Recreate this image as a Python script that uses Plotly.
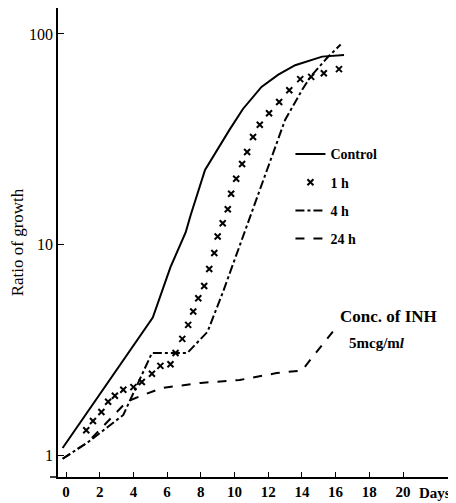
import plotly.graph_objects as go

# ---- data ----
control_days = [-0.2, 5.15, 6.2, 7.1, 7.4, 8.25, 9.7, 10.5, 11.6, 12.6, 13.6, 14.7, 15.2, 16.5]
control_vals = [1.08, 4.5, 7.8, 11.4, 13.8, 22.6, 35, 44, 56, 64, 71, 76, 78, 79.5]

h1_days = [1.2, 1.6, 2.1, 2.5, 2.9, 3.4, 4.0, 4.5, 5.1, 5.6, 6.2, 6.5, 6.9, 7.25, 7.55, 7.85,
           8.2, 8.5, 8.8, 9.0, 9.3, 9.6, 9.8, 10.1, 10.45, 10.75, 11.1, 11.5, 12.05, 12.65,
           13.25, 13.9, 14.55, 15.3, 16.2]
h1_vals = [1.31, 1.45, 1.6, 1.79, 1.91, 2.04, 2.1, 2.22, 2.43, 2.65, 2.7, 3.05, 3.56, 4.15, 4.8, 5.55,
           6.35, 7.65, 9.1, 10.9, 12.6, 14.7, 17.4, 20.5, 24.1, 27.5, 32.4, 37, 42, 47.5,
           54, 61, 62.5, 65, 68]

h4_days = [-0.2, 1.3, 3.4, 5.1, 7.2, 8.4, 9.3, 10.7, 12.1, 13.0, 14.0, 14.5, 15.5, 16.3]
h4_vals = [0.96, 1.15, 1.55, 3.05, 3.05, 3.85, 5.9, 12.1, 25, 39, 54, 62.5, 77, 89]

h24_days = [-0.2, 1.3, 3.6, 4.3, 5.7, 8.0, 10.3, 12.5, 14.0, 16.1]
h24_vals = [0.96, 1.15, 1.79, 1.89, 2.08, 2.2, 2.27, 2.45, 2.52, 4.1]

x_ticks = [0, 2, 4, 6, 8, 10, 12, 14, 16, 18, 20]
y_ticks = [1, 10, 100]
y_tick_text = ["1", "10", "100"]

SERIF = "Liberation Serif"

fig = go.Figure()
fig.add_trace(go.Scatter(x=control_days, y=control_vals, mode="lines", name="Control",
                         line=dict(color="black", width=2), legendgroup="a"))
fig.add_trace(go.Scatter(x=h1_days, y=h1_vals, mode="markers", name="1 h",
                         marker=dict(symbol="x-thin", size=6, color="black",
                                     line=dict(color="black", width=2)), legendgroup="b"))
fig.add_trace(go.Scatter(x=h4_days, y=h4_vals, mode="lines", name="4 h",
                         line=dict(color="black", width=2, dash="dashdot"), legendgroup="c"))
fig.add_trace(go.Scatter(x=h24_days, y=h24_vals, mode="lines", name="24 h",
                         line=dict(color="black", width=2, dash="dash"), legendgroup="d"))

# the page body has an 8px margin, so the figure is 8px smaller and shifted accordingly
fig.update_layout(
    width=448, height=495,
    margin=dict(l=50, r=8, t=0, b=26),
    paper_bgcolor="white", plot_bgcolor="white",
    font=dict(family=SERIF, color="black", size=14),
    showlegend=True,
    legend=dict(x=0.596, y=0.722, xanchor="left", yanchor="top",
                bgcolor="rgba(0,0,0,0)", tracegroupgap=7,
                font=dict(family=SERIF, size=14, weight="bold"),
                itemwidth=30, traceorder="grouped"),
    xaxis=dict(range=[-0.475, 22.67], tickvals=x_ticks, ticks="inside", ticklen=5,
               tickcolor="black", showline=True, linecolor="black", linewidth=1.5,
               showgrid=False, zeroline=False, automargin=False,
               tickfont=dict(family=SERIF, size=15, weight="bold")),
    yaxis=dict(type="log", range=[-0.1045, 2.123], tickvals=y_ticks, ticktext=y_tick_text,
               ticks="inside", ticklen=6, tickcolor="black", showline=True, linecolor="black",
               linewidth=1.5, showgrid=False, zeroline=False, automargin=False,
               tickfont=dict(family=SERIF, size=16),
               title=dict(text="Ratio of growth", font=dict(family=SERIF, size=17), standoff=4)),
    shapes=[dict(type="line", xref="paper", yref="paper", x0=-0.0205, x1=0, y0=0, y1=0,
                 line=dict(color="black", width=1.5))],
    annotations=[
        dict(x=16.15, y=0.66, xref="x", yref="y", text="<b>Conc. of INH</b>", showarrow=False,
             xanchor="left", yanchor="middle", font=dict(family=SERIF, size=17)),
        dict(x=16.65, y=0.53, xref="x", yref="y", text="<b>5mcg/m<i>l</i></b>", showarrow=False,
             xanchor="left", yanchor="middle", font=dict(family=SERIF, size=15)),
        dict(x=1.012, y=-0.034, xref="paper", yref="paper", text="Days", showarrow=False,
             xanchor="right", yanchor="middle", font=dict(family=SERIF, size=15, weight="bold")),
    ],
)

fig.write_html("out.html")
